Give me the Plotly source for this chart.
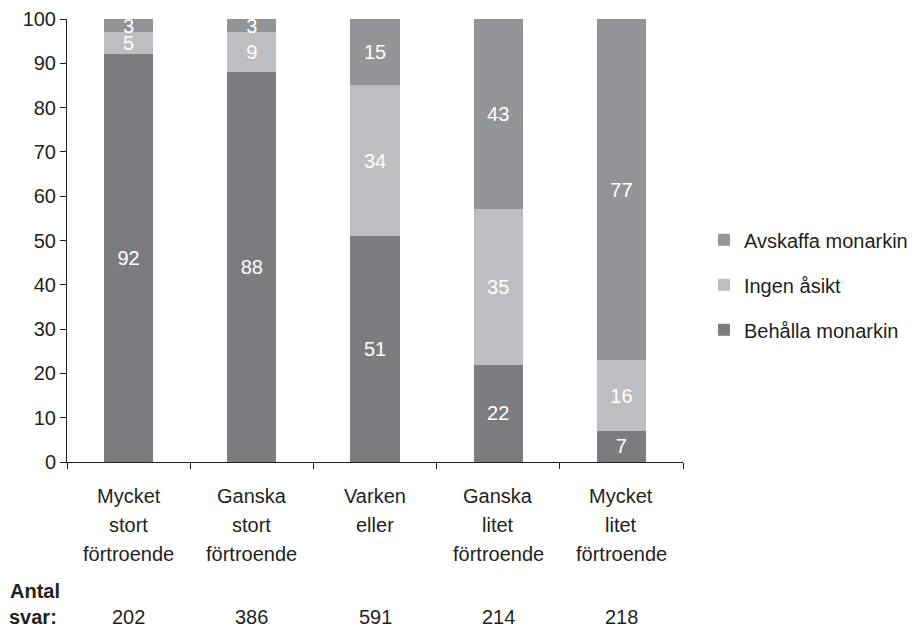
import plotly.graph_objects as go

categories = ["Mycket stort förtroende", "Ganska stort förtroende", "Varken eller",
              "Ganska litet förtroende", "Mycket litet förtroende"]
category_lines = [["Mycket", "stort", "förtroende"],
                  ["Ganska", "stort", "förtroende"],
                  ["Varken", "eller", ""],
                  ["Ganska", "litet", "förtroende"],
                  ["Mycket", "litet", "förtroende"]]
behalla = [92, 88, 51, 22, 7]
ingen = [5, 9, 34, 35, 16]
avskaffa = [3, 3, 15, 43, 77]
antal_svar = [202, 386, 591, 214, 218]
y_ticks = [0, 10, 20, 30, 40, 50, 60, 70, 80, 90, 100]

FONT = "Liberation Sans, Arial, Helvetica, sans-serif"
TXT = "#231f20"
PLOT_H = 443.0  # plot area height in px, used to place text rows below the axis


def py(pix_below_axis):
    return -pix_below_axis / PLOT_H


fig = go.Figure()
series = [("Behålla monarkin", behalla, "#7b7c80", 3),
          ("Ingen åsikt", ingen, "#bdbec2", 2),
          ("Avskaffa monarkin", avskaffa, "#939498", 1)]
for i, (name, vals, col, rank) in enumerate(series):
    fig.add_trace(go.Bar(
        x=categories, y=vals, name=name, marker=dict(color=col, line=dict(width=0)),
        text=[str(v) for v in vals], textposition="inside", insidetextanchor="middle",
        textangle=0, textfont=dict(color="white", size=20, family=FONT),
        legendgroup=f"g{i}", legendrank=rank, hoverinfo="skip"))

annotations = []
for cat, lines, n in zip(categories, category_lines, antal_svar):
    for j, line in enumerate(lines):
        if line:
            annotations.append(dict(x=cat, xref="x", y=py(34 + 29 * j), yref="paper",
                                    text=line, showarrow=False, yanchor="middle",
                                    font=dict(size=20, family=FONT, color=TXT)))
    annotations.append(dict(x=cat, xref="x", y=py(155), yref="paper", text=str(n),
                            showarrow=False, yanchor="middle", borderpad=0,
                            font=dict(size=20, family=FONT, color=TXT)))
annotations.append(dict(x=-0.096, xref="paper", y=py(129), yref="paper", text="<b>Antal</b>",
                        showarrow=False, xanchor="left", yanchor="middle",
                        font=dict(size=20, family=FONT, color=TXT)))
annotations.append(dict(x=-0.096, xref="paper", y=py(155), yref="paper", text="<b>svar:</b>",
                        showarrow=False, xanchor="left", yanchor="middle", borderpad=0,
                        font=dict(size=20, family=FONT, color=TXT)))

fig.update_layout(
    barmode="stack", bargap=0.6, width=911, height=621,
    margin=dict(l=59, r=236, t=11, b=167, autoexpand=False),
    plot_bgcolor="white", paper_bgcolor="white",
    font=dict(family=FONT, size=20, color=TXT),
    uniformtext=dict(minsize=20, mode="show"),
    showlegend=True,
    legend=dict(x=1.034, xanchor="left", y=0.4, yanchor="middle",
                traceorder="grouped", tracegroupgap=16,
                font=dict(size=20, family=FONT, color=TXT)),
    annotations=annotations,
    xaxis=dict(type="category", showline=True, linecolor=TXT, linewidth=1,
               ticks="outside", tickson="boundaries", ticklen=6, tickcolor=TXT,
               showticklabels=False, showgrid=False, zeroline=False),
    yaxis=dict(range=[0, 100], tickvals=y_ticks, showline=True, linecolor=TXT, linewidth=1,
               ticks="outside", ticklen=6, tickcolor=TXT, showgrid=False, zeroline=False,
               tickfont=dict(size=20, family=FONT, color=TXT)),
)
fig.write_html("out.html")
